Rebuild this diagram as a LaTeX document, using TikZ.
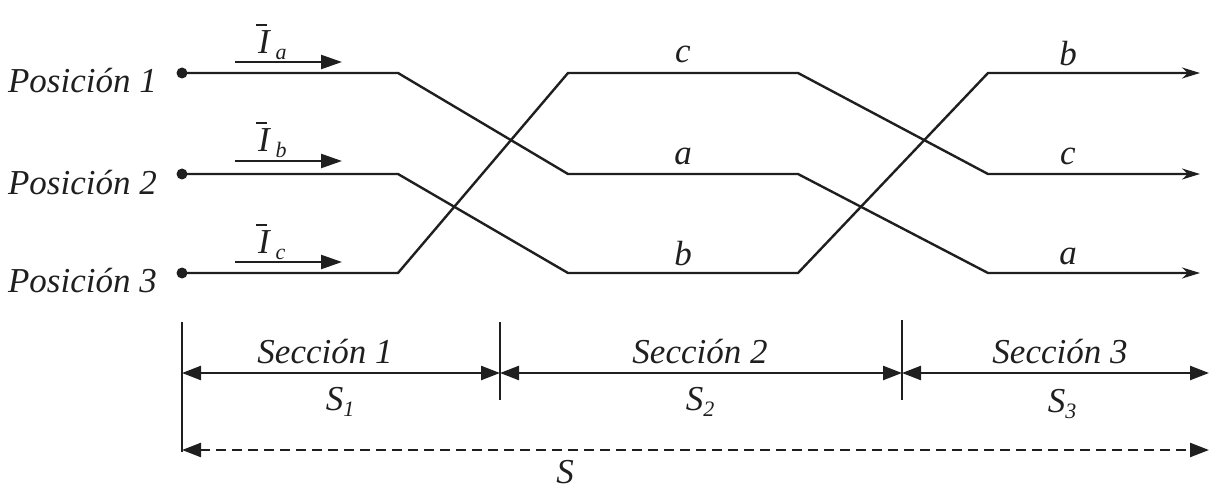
\documentclass[tikz,border=0pt]{standalone}
\usepackage{fontspec}
\setmainfont{Liberation Serif}
\usetikzlibrary{arrows.meta}
\definecolor{ink}{gray}{0.12}
\tikzset{
  wire/.style={line width=2.4pt, draw=ink},
  outwire/.style={wire, -{Stealth[length=18pt,width=11pt]}},
  curarrow/.style={line width=2.4pt, draw=ink, -{Triangle[length=21pt,width=14pt]}},
  tick/.style={line width=2pt, draw=ink},
  dimline/.style={line width=2.4pt, draw=ink, {Triangle[length=19pt,width=14pt]}-{Triangle[length=19pt,width=14pt]}},
  totline/.style={dimline, dash pattern=on 10pt off 6pt},
  lbl/.style={font=\fontsize{35}{40}\selectfont\itshape, text=ink, inner sep=0pt},
  dot/.style={circle, fill=ink, inner sep=0pt, minimum size=11pt},
}
\newcommand{\subx}[1]{\raisebox{-0.35ex}{\fontsize{22}{24}\selectfont\itshape #1}}
\newcommand{\Ibar}[1]{{\itshape I}\llap{\raisebox{0.78em}{\rule{0.32em}{0.06em}}\hspace{0.08em}}\,\subx{#1}}
\begin{document}
\begin{tikzpicture}[x=1pt,y=-1pt]
\useasboundingbox (0,0) rectangle (1211,492);
% columns / rows
\foreach \c/\x in {0/182,1/398,2/568,3/798,4/988,5/1200}{
  \foreach \r/\y in {1/73,2/174,3/273}{
    \coordinate (n\c\r) at (\x,\y);
  }
}
% start dots
\node[dot] (d1) at (n01) {};
\node[dot] (d2) at (n02) {};
\node[dot] (d3) at (n03) {};
% position labels
\node[lbl, anchor=east] (pos1) at (157,81) {Posición 1};
\node[lbl, anchor=east] (pos2) at (157,183) {Posición 2};
\node[lbl, anchor=east] (pos3) at (157,281) {Posición 3};
% wires
\draw[outwire] (d1.center) -- (n11) -- (n22) -- (n32) -- (n43) -- (n53);
\draw[outwire] (d2.center) -- (n12) -- (n23) -- (n33) -- (n41) -- (n51);
\draw[outwire] (d3.center) -- (n13) -- (n21) -- (n31) -- (n42) -- (n52);
% phase labels
\node[lbl] (s2c) at (683,54) {c};
\node[lbl] (s2a) at (683,156) {a};
\node[lbl] (s2b) at (683,254) {b};
\node[lbl] (s3b) at (1068,54) {b};
\node[lbl] (s3c) at (1068,156) {c};
\node[lbl] (s3a) at (1068,256) {a};
% current arrows
\coordinate (ia0) at (235,62);  \coordinate (ia1) at (342,62);
\coordinate (ib0) at (235,161); \coordinate (ib1) at (342,161);
\coordinate (ic0) at (235,262); \coordinate (ic1) at (342,262);
\draw[curarrow] (ia0) -- (ia1);
\draw[curarrow] (ib0) -- (ib1);
\draw[curarrow] (ic0) -- (ic1);
\node[lbl, anchor=west] (la) at (258,42) {\Ibar{a}};
\node[lbl, anchor=west] (lb) at (258,140) {\Ibar{b}};
\node[lbl, anchor=west] (lc) at (258,242) {\Ibar{c}};
% dimension ticks
\coordinate (t0a) at (182,322); \coordinate (t0b) at (182,452);
\coordinate (t1a) at (500,322); \coordinate (t1b) at (500,400);
\coordinate (t2a) at (902,320); \coordinate (t2b) at (902,400);
\draw[tick] (t0a) -- (t0b);
\draw[tick] (t1a) -- (t1b);
\draw[tick] (t2a) -- (t2b);
\coordinate (m0) at (182,373); \coordinate (m1) at (500,373);
\coordinate (m2) at (902,373); \coordinate (m3) at (1209,373);
\draw[dimline] (m0) -- (m1);
\draw[dimline] (m1) -- (m2);
\draw[dimline] (m2) -- (m3);
\coordinate (q0) at (182,450); \coordinate (q1) at (1209,450);
\draw[totline] (q0) -- (q1);
% section labels
\node[lbl] (sec1) at (325,352) {Sección 1};
\node[lbl] (sec2) at (700,352) {Sección 2};
\node[lbl] (sec3) at (1060,352) {Sección 3};
\node[lbl] (S1) at (340,402) {S\subx{1}};
\node[lbl] (S2) at (700,402) {S\subx{2}};
\node[lbl] (S3) at (1062,404) {S\subx{3}};
\node[lbl] (S) at (565,472) {S};
\end{tikzpicture}
\end{document}
